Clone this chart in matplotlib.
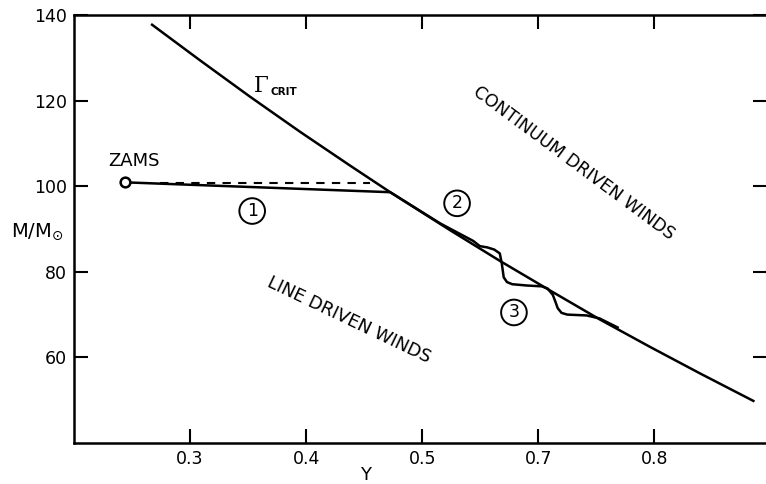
import matplotlib.pyplot as plt

# Gamma_crit boundary (helium fraction Y, mass in Msun)
gcrit_y = [0.2664, 0.3086, 0.3517, 0.3948, 0.4379, 0.4724, 0.5241, 0.5672, 0.6103,
           0.6534, 0.6966, 0.7397, 0.7862]
gcrit_m = [137.9, 129.4, 120.9, 112.7, 104.8, 98.6, 89.7, 82.5, 75.6,
           68.8, 62.4, 56.2, 49.7]

# evolutionary track from the ZAMS
track_y = [0.2441, 0.4724, 0.5155, 0.5440, 0.5496, 0.5560, 0.5620, 0.5668, 0.5685, 0.5702,
           0.5730, 0.5775, 0.5900, 0.6030, 0.6080, 0.6125, 0.6150, 0.6167, 0.6200, 0.6250,
           0.6417, 0.6528, 0.6683]
track_m = [100.9, 98.6, 91.3, 87.2, 86.0, 85.7, 85.2, 84.3, 82.0, 78.7,
           77.6, 77.1, 76.8, 76.6, 76.1, 74.6, 72.8, 71.5, 70.4, 70.0,
           69.8, 69.1, 67.0]

# dashed horizontal reference
dash_y = [0.2742, 0.4549]
dash_m = [100.7, 100.7]

xticks = [0.3, 0.4, 0.5, 0.6, 0.7]
xlabels = ['0.3', '0.4', '0.5', '0.7', '0.8']
yticks = [60, 80, 100, 120, 140]

fig = plt.figure(figsize=(7.66, 4.84), dpi=100)
ax = fig.add_axes([74 / 766, 41 / 484, 693 / 766, 428 / 484])

ax.plot(gcrit_y, gcrit_m, color='black', lw=1.8, solid_capstyle='butt')
ax.plot(track_y, track_m, color='black', lw=1.8, solid_joinstyle='round')
ax.plot(dash_y, dash_m, color='black', lw=1.5, dashes=(4, 3.5))
ax.plot([track_y[0]], [track_m[0]], 'o', ms=7, mfc='white', mec='black', mew=1.8)

ax.set_xlim(0.2, 0.797)
ax.set_ylim(40, 140)
ax.set_xticks(xticks)
ax.set_xticklabels(xlabels)
ax.set_yticks(yticks)
ax.tick_params(direction='in', length=10, width=1.5, labelsize=12.5,
               top=True, right=True, pad=5)
for s in ax.spines.values():
    s.set_linewidth(1.8)

ax.text(0.252, 105.9, 'ZAMS', fontsize=13, ha='center', va='center')
ax.text(0.3552, 123.4, 'Γ', fontsize=15.5, ha='left', va='center', family='DejaVu Serif')
ax.text(0.3695, 122.0, 'CRIT', fontsize=7.5, ha='left', va='center', weight='bold')

circ = dict(boxstyle='circle,pad=0.22', fc='white', ec='black', lw=1.4)
ax.text(0.3535, 94.2, '1', fontsize=12.5, ha='center', va='center', bbox=circ)
ax.text(0.5300, 96.0, '2', fontsize=12.5, ha='center', va='center', bbox=circ)
ax.text(0.5790, 70.5, '3', fontsize=12.5, ha='center', va='center', bbox=circ)

ax.text(0.6305, 105.3, 'CONTINUUM DRIVEN WINDS', fontsize=12.5, rotation=-36.5,
        ha='center', va='center', rotation_mode='anchor')
ax.text(0.4370, 68.8, 'LINE DRIVEN WINDS', fontsize=12.8, rotation=-25.5,
        ha='center', va='center', rotation_mode='anchor')

fig.text(366 / 766, 1 - 475 / 484, 'Y', fontsize=13, ha='center', va='center')
fig.text(37 / 766, 1 - 232 / 484, r'M/M$_{\odot}$', fontsize=14, ha='center', va='center')

fig.savefig('out.png', dpi=100)
